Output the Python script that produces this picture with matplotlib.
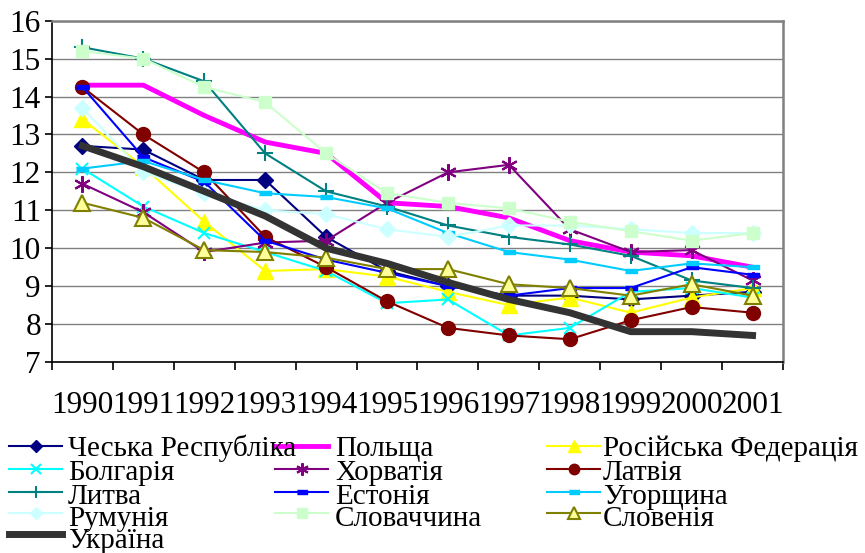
import matplotlib.pyplot as plt
from matplotlib.lines import Line2D

plt.rcParams['font.family'] = ['Liberation Serif', 'DejaVu Serif']

years = ['1990', '1991', '1992', '1993', '1994', '1995', '1996', '1997', '1998', '1999', '2000', '2001']

czech = [12.7, 12.6, 11.8, 11.8, 10.3, 9.4, 9.0, 8.75, 8.75, 8.65, 8.75, 8.85]
poland = [14.3, 14.3, 13.5, 12.8, 12.5, 11.2, 11.1, 10.8, 10.2, 9.9, 9.8, 9.5]
russia = [13.4, 12.15, 10.7, 9.4, 9.45, 9.25, 8.85, 8.5, 8.7, 8.3, 8.7, 8.95]
bulgaria = [12.1, 11.1, 10.4, 9.9, 9.4, 8.55, 8.65, 7.7, 7.9, 8.85, 8.95, 8.7]
croatia = [11.7, 10.95, 9.9, 10.15, 10.2, 11.2, 12.0, 12.2, 10.5, 9.9, 9.95, 9.15]
latvia = [14.25, 13.0, 12.0, 10.3, 9.5, 8.6, 7.9, 7.7, 7.6, 8.1, 8.45, 8.3]
lithuania = [15.3, 15.0, 14.4, 12.5, 11.5, 11.1, 10.6, 10.3, 10.1, 9.8, 9.15, 8.95]
estonia = [14.25, 12.4, 11.75, 10.2, 9.7, 9.35, 9.0, 8.75, 8.95, 8.95, 9.5, 9.3]
hungary = [12.1, 12.3, 11.8, 11.45, 11.35, 11.05, 10.4, 9.9, 9.7, 9.4, 9.6, 9.5]
romania = [13.7, 12.0, 11.45, 11.0, 10.9, 10.5, 10.3, 10.6, 10.6, 10.5, 10.4, 10.4]
slovakia = [15.2, 15.0, 14.25, 13.85, 12.5, 11.45, 11.2, 11.05, 10.7, 10.45, 10.2, 10.4]
slovenia = [11.2, 10.8, 9.95, 9.9, 9.75, 9.45, 9.45, 9.05, 8.95, 8.75, 9.05, 8.75]
ukraine = [12.7, 12.15, 11.5, 10.85, 10.0, 9.6, 9.1, 8.65, 8.3, 7.8, 7.8, 7.7]

dash = [(-1, -0.35), (1, -0.35), (1, 0.35), (-1, 0.35)]

series = [
    ('Чеська Республіка', czech, dict(color='#000080', marker='D', ms=8)),
    ('Польща', poland, dict(color='#FF00FF', lw=3.5, marker='None')),
    ('Російська Федерація', russia, dict(color='#FFFF00', marker='^', ms=11)),
    ('Болгарія', bulgaria, dict(color='#00FFFF', marker='x', ms=9, mew=1.5)),
    ('Хорватія', croatia, dict(color='#800080', marker=(6, 2, 0), ms=12, mew=1.5)),
    ('Латвія', latvia, dict(color='#800000', marker='o', ms=10)),
    ('Литва', lithuania, dict(color='#008080', marker='+', ms=11, mew=1.5)),
    ('Естонія', estonia, dict(color='#0000FF', marker=dash, ms=9)),
    ('Угорщина', hungary, dict(color='#00CCFF', marker=dash, ms=9)),
    ('Румунія', romania, dict(color='#CCFFFF', marker='D', ms=8)),
    ('Словаччина', slovakia, dict(color='#CCFFCC', marker='s', ms=9)),
    ('Словенія', slovenia, dict(color='#808000', marker='^', ms=11, mfc='#FFFF99', mew=1.5)),
    ('Україна', ukraine, dict(color='#333333', lw=5, marker='None')),
]

fig = plt.figure(figsize=(8.65, 5.53), dpi=100)
ax = fig.add_axes([52 / 865, 1 - 362 / 553, 731 / 865, (362 - 20.7) / 553])

x = list(range(len(years)))
for label, vals, st in series:
    st = dict(st)
    lw = st.pop('lw', 1.5)
    ax.plot(x, vals, lw=lw, label=label, **st)

fs = 22.5
ax.set_xlim(-0.5, 11.5)
ax.set_ylim(7, 16)
ax.set_yticks(range(7, 17))
ax.set_xticks([i - 0.5 for i in range(13)])
ax.set_xticklabels([])
ax.set_xticks(x, minor=True)
ax.set_xticklabels(years, minor=True)
ax.tick_params(axis='x', which='minor', length=0, pad=21, labelsize=fs)
ax.tick_params(axis='x', which='major', length=6, width=1.2, direction='out')
ax.tick_params(axis='y', length=5, width=1.2, labelsize=fs, pad=3)
ax.grid(axis='y', color='#808080', lw=1)
ax.set_axisbelow(True)
for s in ['top', 'right']:
    ax.spines[s].set_color('#808080')
    ax.spines[s].set_linewidth(1.8)
for s in ['left', 'bottom']:
    ax.spines[s].set_linewidth(1.2)

# legend drawn by hand, Excel style (rows overlap slightly)
col_x = [(9, 62, 68), (275, 328, 335), (547, 600, 603)]
row_y = [446, 469, 492, 513, 534]
row_base = [456, 480, 504, 526, 548]
for k, (label, vals, st) in enumerate(series):
    st = dict(st)
    r, c = divmod(k, 3)
    x0, x1, tx = col_x[c]
    y = 1 - row_y[r] / 553
    lw = st.pop('lw', 1.5)
    ms = st.pop('ms', 6) * 0.75
    fig.add_artist(Line2D([x0 / 865, x1 / 865], [y, y], transform=fig.transFigure,
                          lw=lw, color=st['color']))
    if st.get('marker', 'None') != 'None':
        fig.add_artist(Line2D([(x0 + x1) / 2 / 865], [y], transform=fig.transFigure,
                              lw=0, ms=ms, **st))
    fig.text(tx / 865, 1 - row_base[r] / 553, label, fontsize=21, va='baseline', ha='left')

fig.savefig('out.png', dpi=100)
